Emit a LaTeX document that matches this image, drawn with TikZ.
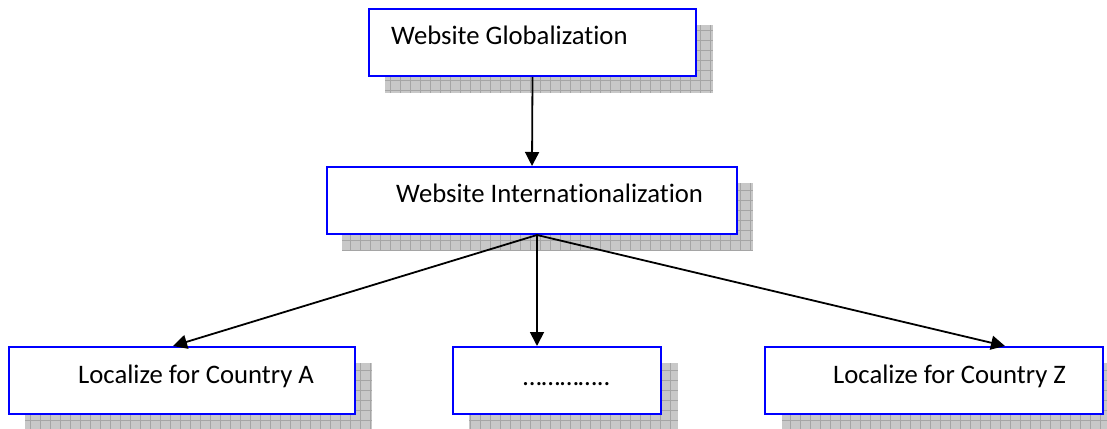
\documentclass[tikz,border=0pt]{standalone}
\usepackage{fontspec}
\setmainfont[Ligatures=NoCommon]{Carlito}
\usetikzlibrary{arrows.meta,calc}
\definecolor{boxblue}{RGB}{0,0,255}
\definecolor{shfill}{RGB}{200,200,200}
\definecolor{shgrid}{RGB}{165,165,165}
\tikzset{
  box/.style={draw=boxblue, line width=2pt, fill=white, rectangle, inner sep=0pt, minimum height=67pt},
  txt/.style={anchor=base west, inner sep=0pt, font=\fontsize{26.7}{30}\selectfont},
  arr/.style={line width=1.8pt, -{Triangle[length=14pt,width=14pt]}},
  shfillstyle/.style={fill=shfill},
  shgridstyle/.style={draw=shgrid, line width=0.8pt}
}
\newcommand{\gridshadow}[4]{%
  \begin{scope}
    \clip (#1,#2) rectangle (#3,#4);
    \fill[shfillstyle] (#1,#2) rectangle (#3,#4);
    \draw[shgridstyle] (#1,#2) grid[step=10pt] (#3,#4);
  \end{scope}}
\begin{document}
\begin{tikzpicture}[x=1pt,y=-1pt]
\useasboundingbox (0,0) rectangle (1107,428);
% shadows
\gridshadow{385}{25}{713}{93}
\gridshadow{342}{183}{753}{250}
\gridshadow{25}{363}{372}{430}
\gridshadow{469}{363}{678}{430}
\gridshadow{782}{363}{1120}{430}
% boxes
\node[box, minimum width=327pt] (g) at (532.5,42.5) {};
\node[box, minimum width=410pt] (i) at (532,200.5) {};
\node[box, minimum width=346pt] (a) at (182,380.5) {};
\node[box, minimum width=208pt] (m) at (557,380.5) {};
\node[box, minimum width=338pt] (z) at (934,380.5) {};
% texts
\node[txt] (gt) at (391,45) {Website Globalization};
\node[txt] (it) at (396,202) {Website Internationalization};
\node[txt] (at) at (78,383) {Localize for Country A};
\node[txt] (mt) at (523,385) {…………..};
\node[txt] (zt) at (833,383) {Localize for Country Z};
% connectors
\coordinate (fan) at ($(i.south)+(5,0)$);
\coordinate (ta) at ($(a.north)+(-9,0)$);
\coordinate (tm) at ($(m.north)+(-20,0)$);
\coordinate (tz) at ($(z.north)+(71,0)$);
\draw[arr] (g.south) -- (i.north);
\draw[arr] (fan) -- (ta);
\draw[arr] (fan) -- (tm);
\draw[arr] (fan) -- (tz);
\end{tikzpicture}
\end{document}
